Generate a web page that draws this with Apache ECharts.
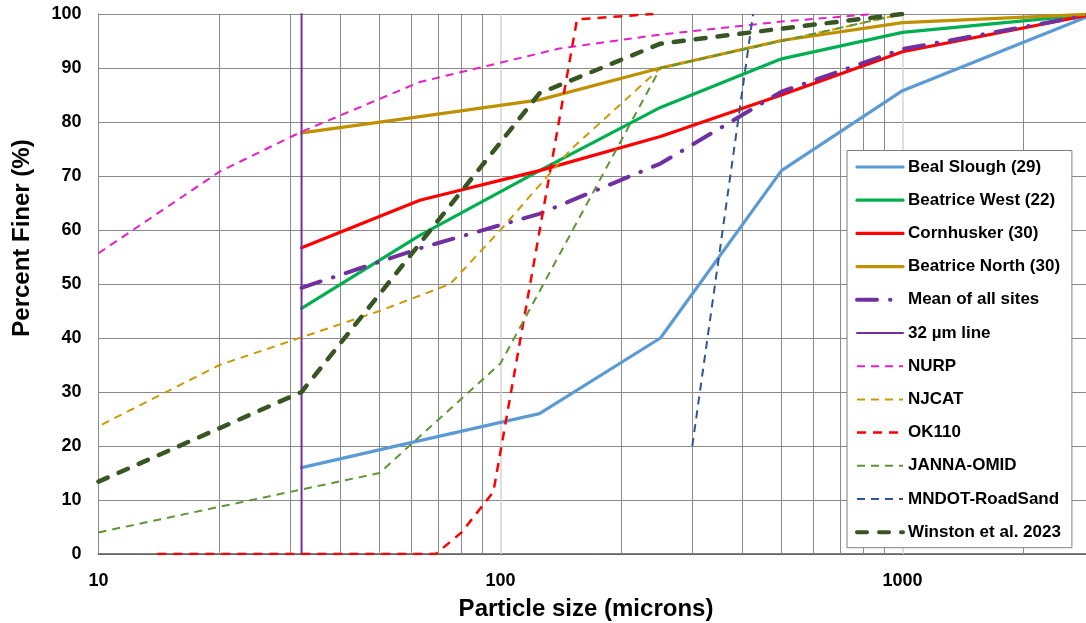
<!DOCTYPE html>
<html>
<head>
<meta charset="utf-8">
<script src="https://cdn.jsdelivr.net/npm/echarts@6/dist/echarts.min.js"></script>
<style>
  html, body { margin: 0; padding: 0; background: #ffffff; }
  #chart { width: 1086px; height: 623px; }
</style>
</head>
<body>
<div id="chart"></div>
<script>
// Particle size distributions (percent finer vs particle size in microns)

// Monitoring sites share one set of sieve sizes
const siteSizes      = [32, 63, 125, 250, 500, 1000, 3000];
const bealSlough     = [16, 21, 26, 40, 71, 85.8, 100];
const beatriceWest   = [45.5, 59, 71, 82.7, 91.7, 96.6, 100];
const cornhusker     = [56.7, 65.5, 71, 77.3, 85, 93, 100];
const beatriceNorth  = [78, 81, 84.1, 90, 95.1, 98.4, 100];
const meanAllSites   = [49.3, 56.6, 63, 72.3, 85.6, 93.5, 100];

// Reference gradations
const nurpSizes      = [10, 20, 32, 63, 140, 250, 500, 850];
const nurpFiner      = [55.7, 70.8, 78.2, 87.4, 93.6, 96.2, 98.6, 100];
const njcatSizes     = [2, 5, 8, 20, 50, 75, 100, 150, 250, 500, 1000];
const njcatFiner     = [5, 10, 20, 35, 45, 50, 60, 75, 90, 95, 100];
const ok110Sizes     = [14, 69, 80, 96, 155, 240];
const ok110Finer     = [0, 0, 4, 11.5, 99, 100];
const jannaSizes     = [10, 50, 100, 250, 500, 1000];
const jannaFiner     = [4, 15, 35.3, 90, 95, 100];
const mndotSizes     = [300, 425];
const mndotFiner     = [20, 100];
const winstonSizes   = [10, 32, 125, 250, 500, 1000];
const winstonFiner   = [13.4, 30, 85.3, 94.5, 97.3, 100];

// 32 micron reference line
const line32Sizes    = [32, 32];
const line32Finer    = [0, 100];

// Vertical grid positions on the log axis
const minorGridX     = [20, 30, 40, 50, 60, 70, 80, 90, 200, 300, 400, 500, 600, 700, 800, 900, 2000];
const majorGridX     = [100, 1000];

const pairs = (xs, ys) => xs.map((x, i) => [x, ys[i]]);

const FONT = "'Liberation Sans', Arial, sans-serif";

function solid(name, xs, ys, color, width) {
  return {
    name, type: 'line', data: pairs(xs, ys), symbol: 'none', z: 3,
    lineStyle: { color, width, type: 'solid', cap: 'round', join: 'round' },
    itemStyle: { color }
  };
}
function dashed(name, xs, ys, color, width, dash, cap) {
  return {
    name, type: 'line', data: pairs(xs, ys), symbol: 'none', z: 3,
    lineStyle: { color, width, type: dash, cap: cap || 'butt', join: 'round' },
    itemStyle: { color }
  };
}

const curves = [
  solid('Beal Slough (29)', siteSizes, bealSlough, '#5B9BD5', 3.2),
  solid('Beatrice West (22)', siteSizes, beatriceWest, '#00B050', 3.2),
  solid('Cornhusker (30)', siteSizes, cornhusker, '#FF0000', 3.2),
  solid('Beatrice North (30)', siteSizes, beatriceNorth, '#BF9000', 3.2),
  dashed('Mean of all sites', siteSizes, meanAllSites, '#7030A0', 4, [20, 13, 0.5, 13], 'round'),
  solid('32 µm line', line32Sizes, line32Finer, '#7030A0', 2),
  dashed('NURP', nurpSizes, nurpFiner, '#E61EC8', 2, [8, 6]),
  dashed('NJCAT', njcatSizes, njcatFiner, '#CC9A06', 2, [8, 6]),
  dashed('OK110', ok110Sizes, ok110Finer, '#FF0000', 2.5, [9, 7]),
  dashed('JANNA-OMID', jannaSizes, jannaFiner, '#5F9537', 2, [8, 6]),
  dashed('MNDOT-RoadSand', mndotSizes, mndotFiner, '#2F5597', 2, [8, 6]),
  dashed('Winston et al. 2023', winstonSizes, winstonFiner, '#375623', 4.5, [10, 12], 'round')
];

const gridSeries = [
  // grid lines drawn beneath the curves
  {
    type: 'line', data: [], z: 1, silent: true,
    markLine: {
      silent: true, symbol: 'none', z: 1, animation: false,
      label: { show: false },
      lineStyle: { type: 'solid', color: '#8a8a8a', width: 1 },
      data: minorGridX.map(v => ({ xAxis: v }))
    }
  },
  {
    type: 'line', data: [], z: 1, silent: true,
    markLine: {
      silent: true, symbol: 'none', z: 1, animation: false,
      label: { show: false },
      lineStyle: { type: 'solid', color: '#d4d4d4', width: 1.5 },
      data: majorGridX.map(v => ({ xAxis: v }))
    }
  }
];

// legend entries keep each curve's own stroke width
const legendData = curves.map(s => ({
  name: s.name,
  lineStyle: { width: Math.min(s.lineStyle.width, 4) }
}));

const chart = echarts.init(document.getElementById('chart'), null, { renderer: 'canvas' });
chart.setOption({
  animation: false,
  backgroundColor: '#ffffff',
  grid: { left: 98.5, right: 0, top: 14, bottom: 69, containLabel: false },
  xAxis: {
    type: 'log', logBase: 10, min: 10, max: 2861,
    axisLine: { show: true, onZero: false, lineStyle: { color: '#595959', width: 1.5 } },
    axisTick: { show: false },
    splitLine: { show: false },
    minorTick: { show: false },
    axisLabel: {
      margin: 18, color: '#000', fontFamily: FONT, fontWeight: 'bold', fontSize: 18,
      showMaxLabel: false,
      formatter: v => {
        const l = Math.log10(v);
        return Math.abs(l - Math.round(l)) < 1e-9 ? String(Math.round(v)) : '';
      }
    }
  },
  yAxis: {
    type: 'value', min: 0, max: 100, interval: 10,
    axisLine: { show: true, lineStyle: { color: '#8a8a8a', width: 1 } },
    axisTick: { show: false },
    splitLine: { show: true, lineStyle: { color: '#8a8a8a', width: 1 } },
    axisLabel: { margin: 17, color: '#000', fontFamily: FONT, fontWeight: 'bold', fontSize: 18 }
  },
  legend: {
    orient: 'vertical', left: 847, top: 150.5,
    data: legendData,
    itemWidth: 46, itemHeight: 17, itemGap: 16.2,
    padding: [8, 11, 7, 8],
    backgroundColor: '#ffffff',
    borderColor: '#7f7f7f', borderWidth: 1, borderRadius: 0,
    itemStyle: { color: 'rgba(0,0,0,0)', borderWidth: 0, opacity: 0 },
    textStyle: { color: '#000', fontFamily: FONT, fontWeight: 'bold', fontSize: 17, lineHeight: 17 }
  },
  graphic: [
    {
      type: 'text', x: 586, y: 609,
      style: {
        text: 'Particle size (microns)', font: "bold 24px 'Liberation Sans', Arial, sans-serif",
        fill: '#000', textAlign: 'center', textVerticalAlign: 'middle'
      }
    },
    {
      type: 'text', x: 22, y: 238, rotation: Math.PI / 2, originX: 0, originY: 0,
      style: {
        text: 'Percent Finer (%)', font: "bold 24px 'Liberation Sans', Arial, sans-serif",
        fill: '#000', textAlign: 'center', textVerticalAlign: 'middle'
      }
    }
  ],
  series: gridSeries.concat(curves)
});
</script>
</body>
</html>
